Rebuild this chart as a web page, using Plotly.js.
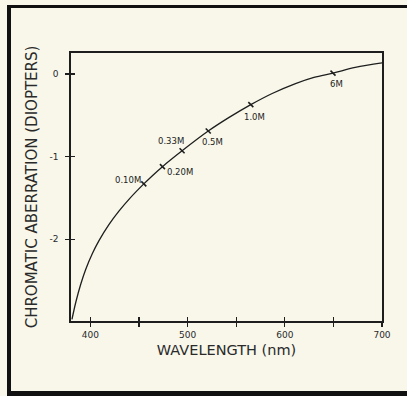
<!DOCTYPE html>
<html>
<head>
<meta charset="utf-8">
<script src="https://cdn.plot.ly/plotly-3.0.1.min.js"></script>
<style>
  html, body { margin: 0; padding: 0; background: #f8f7ea; }
  #chart { width: 407px; height: 396px; position: absolute; left: 0; top: 0; }
  .frame { position: absolute; background: #111; pointer-events: none; }
</style>
</head>
<body>
<div id="chart"></div>
<div class="frame" style="left:7px; top:5px; width:400px; height:3px;"></div>
<div class="frame" style="left:7px; top:5px; width:4px; height:391px;"></div>
<div class="frame" style="left:7px; top:391px; width:400px; height:5px;"></div>
<script>
// Curve (wavelength nm, chromatic aberration D)
const curveWavelength = [381, 385, 390, 395.2, 402, 408.8, 419, 429.3, 440.3, 454.9, 464, 474.1, 494.3, 521.2, 542.7, 565, 587, 611, 630, 649.6, 672.5, 700];
const curveAberration = [-2.97, -2.76, -2.545, -2.363, -2.173, -2.017, -1.823, -1.66, -1.508, -1.33, -1.227, -1.121, -0.929, -0.69, -0.525, -0.37, -0.235, -0.115, -0.04, 0.012, 0.08, 0.135];

// Labeled viewing distances
const pointLabels = ["0.10M", "0.20M", "0.33M", "0.5M", "1.0M", "6M"];
const pointWavelength = [454.9, 474.1, 494.3, 521.2, 565, 649.6];
const pointAberration = [-1.33, -1.121, -0.929, -0.69, -0.37, 0.012];

// Axis ticks
const xTickVals = [400, 450, 500, 550, 600, 650, 700];
const xTickText = ["400", "", "500", "", "600", "", "700"];
const yTickVals = [0, -1, -2];
const yTickText = ["0", "-1", "-2"];

// Label placement (pixel offsets from each point)
const labelShiftX = [-16, 18, -11, 4, 4, 3];
const labelShiftY = [4, -5, 10, -11, -12, -11];

const ink = '#1e1e1e';
const bg = '#f8f7ea';

const traces = [
  {
    x: curveWavelength, y: curveAberration,
    mode: 'lines', type: 'scatter',
    line: { color: ink, width: 1.3, shape: 'spline', smoothing: 1 },
    hoverinfo: 'skip', showlegend: false
  },
  {
    x: pointWavelength, y: pointAberration,
    mode: 'markers', type: 'scatter',
    marker: { symbol: 'line-nw', size: 5, color: ink, line: { color: ink, width: 1.6 } },
    hoverinfo: 'skip', showlegend: false
  },
  {
    x: [null], y: [null], xaxis: 'x2', yaxis: 'y2',
    mode: 'markers', type: 'scatter', hoverinfo: 'skip', showlegend: false
  }
];

const xRange = [380, 700];
const yRange = [-2.99, 0.255];
const tickFont = { family: 'DejaVu Sans, sans-serif', size: 9, color: '#2a2a2a' };
const titleFamily = 'DejaVu Sans, sans-serif';

const annotations = pointLabels.map((t, i) => ({
  x: pointWavelength[i], y: pointAberration[i], xref: 'x', yref: 'y',
  text: t, showarrow: false, xshift: labelShiftX[i], yshift: labelShiftY[i],
  font: { family: 'DejaVu Sans, sans-serif', size: 8.5, color: '#222' }
}));

const layout = {
  width: 407, height: 396,
  margin: { l: 71, r: 25, t: 53, b: 75 },
  paper_bgcolor: bg, plot_bgcolor: bg,
  showlegend: false,
  xaxis: {
    range: xRange, tickvals: xTickVals, ticktext: xTickText,
    ticks: 'outside', ticklen: 4, tickwidth: 1.3, tickcolor: ink,
    showline: true, linecolor: ink, linewidth: 1.8, mirror: true,
    showgrid: false, zeroline: false, tickfont: tickFont, ticklabelstandoff: 0,
    title: { text: 'WAVELENGTH (nm)', font: { family: titleFamily, size: 14.5, color: '#2a2a2a' }, standoff: 6 }
  },
  yaxis: {
    range: yRange, tickvals: yTickVals, ticktext: yTickText,
    ticks: 'outside', ticklen: 4, tickwidth: 1.3, tickcolor: ink,
    showline: true, linecolor: ink, linewidth: 1.8, mirror: true,
    showgrid: false, zeroline: false, tickfont: tickFont, ticklabelstandoff: 5,
    title: { text: 'CHROMATIC ABERRATION (DIOPTERS)', font: { family: titleFamily, size: 15, color: '#2a2a2a' }, standoff: 8 }
  },
  xaxis2: {
    overlaying: 'x', range: xRange, tickvals: xTickVals,
    ticks: 'inside', ticklen: 4, tickwidth: 1.3, tickcolor: ink,
    showticklabels: false, showline: false, showgrid: false, zeroline: false
  },
  yaxis2: {
    overlaying: 'y', range: yRange, tickvals: yTickVals,
    ticks: 'inside', ticklen: 4, tickwidth: 1.3, tickcolor: ink,
    showticklabels: false, showline: false, showgrid: false, zeroline: false
  },
  annotations: annotations
};

Plotly.newPlot('chart', traces, layout, { staticPlot: true, displayModeBar: false });
</script>
</body>
</html>
